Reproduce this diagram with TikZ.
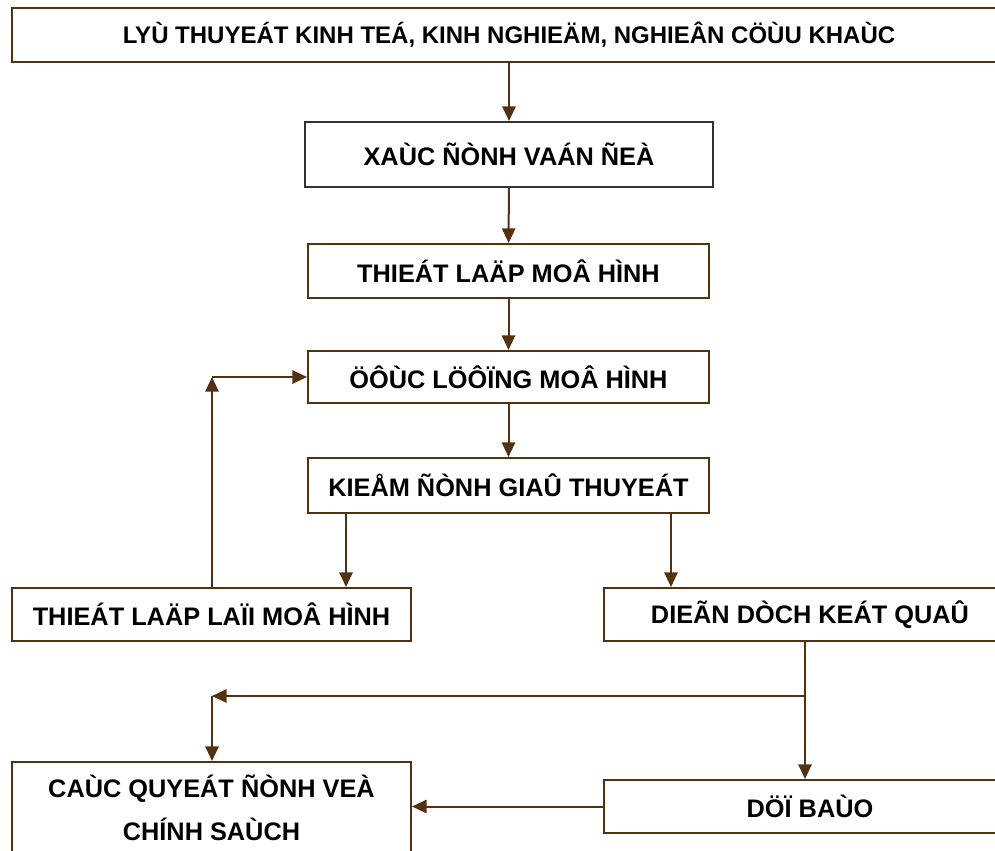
\documentclass[tikz,border=0pt]{standalone}
\usepackage{fontspec}
\setmainfont{Liberation Sans}
\usepackage{tikz}
\usetikzlibrary{arrows.meta}
\definecolor{flowbrown}{RGB}{82,50,18}

\begin{document}
\begin{tikzpicture}[x=0.75pt,y=-0.75pt,
box/.style={draw=flowbrown,line width=1.5pt,fill=white,inner sep=0pt,align=center,font=\bfseries\fontsize{19}{32}\selectfont},
flow/.style={-{Triangle[length=11pt,width=10pt]},draw=flowbrown,line width=1.5pt}]
\useasboundingbox (0,0) rectangle (995,850);
% The boxes
\node[box,minimum width=745.5pt,minimum height=40.5pt,font=\bfseries\fontsize{18}{22}\selectfont] (top) at (509,35) {LYÙ THUYEÁT KINH TEÁ, KINH NGHIEÄM, NGHIEÂN CÖÙU KHAÙC};
\node[box,draw=black!80,minimum width=306pt,minimum height=48.75pt] (xac) at (509,154.5) {XAÙC ÑÒNH VAÁN ÑEÀ};
\node[box,minimum width=300.75pt,minimum height=40.5pt] (thiet) at (508.5,271) {THIEÁT LAÄP MOÂ HÌNH};
\node[box,minimum width=300.75pt,minimum height=39pt] (uoc) at (508.5,377) {ÖÔÙC LÖÔÏNG MOÂ HÌNH};
\node[box,minimum width=300.75pt,minimum height=41.25pt] (kiem) at (508.5,485.5) {KIEÅM ÑÒNH GIAÛ THUYEÁT};
\node[box,minimum width=299.25pt,minimum height=39.75pt] (lai) at (211.5,614.5) {THIEÁT LAÄP LAÏI MOÂ HÌNH};
\node[box,minimum width=309pt,minimum height=39.75pt] (dien) at (810,614.5) {DIEÃN DÒCH KEÁT QUAÛ};
\node[box,minimum width=299.25pt,minimum height=69pt] (cac) at (211.5,808) {CAÙC QUYEÁT ÑÒNH VEÀ\\CHÍNH SAÙCH};
\node[box,minimum width=309pt,minimum height=39.75pt] (du) at (810,806.5) {DÖÏ BAÙO};
% Turning points
\coordinate (kl) at (346,485.5);
\coordinate (kr) at (671,485.5);
\coordinate (back) at (212,377);
\coordinate (split) at (805,696);
\coordinate (turn) at (212,696);
% The main column
\draw[flow] (top) -- (xac);
\draw[flow] (xac) -- (thiet);
\draw[flow] (thiet) -- (uoc);
\draw[flow] (uoc) -- (kiem);
% From the test
\draw[flow] (kl |- kiem.south) -- (kl |- lai.north);
\draw[flow] (kr |- kiem.south) -- (kr |- dien.north);
% Back to the estimate
\draw[flow] (back |- lai.north) -- (back);
\draw[flow] (back) -- (uoc.west);
% From the results
\draw[draw=flowbrown,line width=1.5pt] (split |- dien.south) -- (split);
\draw[flow] (split) -- (split |- du.north);
\draw[flow] (split) -- (turn);
\draw[flow] (turn) -- (turn |- cac.north);
\draw[flow] (du.west) -- (du.west -| cac.east);
\end{tikzpicture}
\end{document}
